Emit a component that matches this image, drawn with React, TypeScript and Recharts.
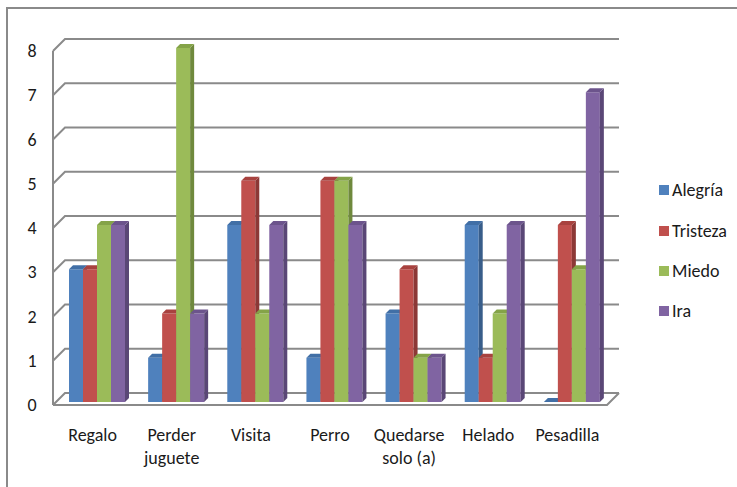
import React from 'react';
import { BarChart, Bar, XAxis, YAxis, CartesianGrid } from 'recharts';

const categories = ['Regalo', 'Perder juguete', 'Visita', 'Perro', 'Quedarse solo (a)', 'Helado', 'Pesadilla'];
const alegria = [3, 1, 4, 1, 2, 4, 0];
const tristeza = [3, 2, 5, 5, 3, 1, 4];
const miedo = [4, 8, 2, 5, 1, 2, 3];
const ira = [4, 2, 4, 4, 1, 4, 7];
const yTicks = [0, 1, 2, 3, 4, 5, 6, 7, 8];

const series = [
  { key: 'Alegría', values: alegria, color: '#4F81BD', top: '#416FA6', side: '#385D8A' },
  { key: 'Tristeza', values: tristeza, color: '#C0504D', top: '#A8423F', side: '#8C3836' },
  { key: 'Miedo', values: miedo, color: '#9BBB59', top: '#84A348', side: '#6F893D' },
  { key: 'Ira', values: ira, color: '#8064A2', top: '#6C548C', side: '#5A4776' },
];

const chartData = categories.map((name, i) => {
  const row: any = { name };
  series.forEach((s) => {
    row[s.key] = s.values[i];
  });
  return row;
});

const FONT = 'Carlito, Lato, "Liberation Sans", Arial, sans-serif';
const GRID = '#8a8a8a';
const DEPTH = 12;

// 3D-ish column: front face, top face and right side, nudged to mid depth
const make3DBar = (top: string, side: string) => (props: any) => {
  const { fill } = props;
  const w = props.width;
  const h = Math.max(props.height || 0, 0);
  const x = props.x + 4;
  const y = props.y - 3;
  const d = 4;
  return (
    <g>
      {h > 0 && <rect x={x} y={y} width={w} height={h} fill={fill} />}
      {h > 0 && (
        <polygon
          points={`${x + w},${y} ${x + w + d},${y - d} ${x + w + d},${y + h - d} ${x + w},${y + h}`}
          fill={side}
        />
      )}
      <polygon points={`${x},${y} ${x + d},${y - d} ${x + w + d},${y - d} ${x + w},${y}`} fill={top} />
    </g>
  );
};

const GridLine = (props: any) => {
  const { x1, x2, y1, index } = props;
  const isFloor = y1 >= 404;
  const d = isFloor
    ? `M${x1},${y1} L${x1 + DEPTH},${y1 - DEPTH} L${x2 + DEPTH},${y1 - DEPTH} M${x1},${y1} L${x2},${y1} L${x2 + DEPTH},${y1 - DEPTH}`
    : `M${x1},${y1} L${x1 + DEPTH},${y1 - DEPTH} L${x2 + DEPTH},${y1 - DEPTH}`;
  return <path key={`grid-${index}`} d={d} stroke={GRID} strokeWidth={2} fill="none" />;
};

const YTick = ({ y, payload }: any) => (
  <text x={32} y={y + 6} textAnchor="middle" fontFamily={FONT} fontSize={18} fill="#1a1a1a">
    {payload.value}
  </text>
);

const XTick = ({ x, y, payload }: any) => {
  const label: string = payload.value;
  const sp = label.indexOf(' ');
  const lines = sp > 0 ? [label.slice(0, sp), label.slice(sp + 1)] : [label];
  return (
    <text x={x} y={y} textAnchor="middle" fontFamily={FONT} fontSize={18} fill="#1a1a1a">
      {lines.map((l, i) => (
        <tspan key={i} x={x} y={y + 36 + i * 23}>
          {l}
        </tspan>
      ))}
    </text>
  );
};

const legendY = [190, 231, 271, 311];

export default function App() {
  return (
    <div style={{ position: 'absolute', left: 0, top: 0, width: 737, height: 487, background: '#fff', overflow: 'hidden' }}>
      <div
        style={{
          position: 'absolute',
          left: 6,
          top: 7,
          width: 740,
          height: 490,
          borderTop: '2px solid #8a8a8a',
          borderLeft: '2px solid #8a8a8a',
        }}
      />
      <div style={{ position: 'absolute', left: 0, top: 0 }}>
        <BarChart
          width={737}
          height={487}
          data={chartData}
          margin={{ top: 51, right: 130, left: 0, bottom: 0 }}
          barGap={0}
          barSize={14}
        >
          <CartesianGrid vertical={false} horizontal={GridLine as any} />
          <XAxis
            dataKey="name"
            axisLine={false}
            tickLine={false}
            tickSize={0}
            tickMargin={0}
            interval={0}
            height={82}
            tick={<XTick />}
          />
          <YAxis
            domain={[0, 8]}
            ticks={yTicks}
            width={53}
            axisLine={{ stroke: GRID, strokeWidth: 2 }}
            tickLine={false}
            tick={<YTick />}
          />
          {series.map((s) => (
            <Bar
              key={s.key}
              dataKey={s.key}
              fill={s.color}
              isAnimationActive={false}
              shape={make3DBar(s.top, s.side)}
            />
          ))}
        </BarChart>
      </div>
      {series.map((s, i) => (
        <div
          key={s.key}
          style={{
            position: 'absolute',
            left: 659,
            top: legendY[i] - 12,
            height: 24,
            display: 'flex',
            alignItems: 'center',
            fontFamily: FONT,
            fontSize: 18,
            color: '#1a1a1a',
          }}
        >
          <span style={{ display: 'inline-block', width: 10, height: 10, background: s.color, marginRight: 3 }} />
          {s.key}
        </div>
      ))}
    </div>
  );
}
